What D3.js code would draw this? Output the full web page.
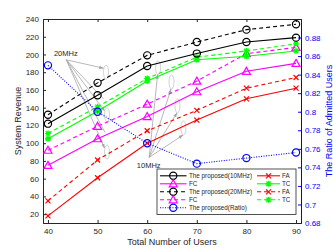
<!DOCTYPE html>
<html>
<head>
<meta charset="utf-8">
<script src="https://cdn.jsdelivr.net/npm/d3@7"></script>
<style>
  body { margin: 0; background: #fff; }
  text { font-family: "Liberation Sans", Arial, sans-serif; }
</style>
</head>
<body>
<div id="chart"></div>
<script>
const users = [40, 50, 60, 70, 80, 90];
const prop10 = [122, 154, 187, 201, 214, 219];
const prop20 = [132, 168, 199, 214, 228, 234];
const fc10 = [75, 105, 130, 158, 181, 190];
const fc20 = [92, 119, 144, 170, 201, 208];
const fa10 = [18, 61, 100, 126, 150, 162];
const fa20 = [35, 81, 114, 137, 162, 174];
const tc10 = [105, 136, 170, 194, 198, 204];
const tc20 = [111, 141, 173, 197, 204, 212];
const ratio = [0.85, 0.80, 0.766, 0.744, 0.750, 0.756];

const xTicks = [40, 50, 60, 70, 80, 90];
const yTicks = [20, 40, 60, 80, 100, 120, 140, 160, 180, 200, 220, 240];
const rTicks = [0.68, 0.7, 0.72, 0.74, 0.76, 0.78, 0.8, 0.82, 0.84, 0.86, 0.88];

// annotation ellipses (data coords: users, revenue)
const ell20 = [[51.7, 180], [51.9, 132], [51.9, 90]];
const ell10 = [[62.2, 185], [64.9, 169], [66.1, 142], [67.3, 117]];

const width = 333, height = 250;
const svg = d3.select('#chart').append('svg')
    .attr('width', width).attr('height', height);

const x = d3.scaleLinear().domain([39, 91]).range([43, 301]);
const y = d3.scaleLinear().domain([10, 240]).range([223, 19]);
const yr = d3.scaleLinear().domain([0.68, 0.9]).range([223, 19]);

const axisCol = '#262626';
const defs = svg.append('defs');
defs.append('marker').attr('id', 'arr')
    .attr('viewBox', '0 0 10 10').attr('refX', 9).attr('refY', 5)
    .attr('markerWidth', 6).attr('markerHeight', 6).attr('orient', 'auto')
    .append('path').attr('d', 'M0,1.5 L10,5 L0,8.5 Z').attr('fill', '#a6a6a6');

// axes
svg.append('g').attr('transform', 'translate(0,223)')
    .call(d3.axisBottom(x).tickValues(xTicks).tickSize(-3).tickPadding(5))
    .call(g => g.select('.domain').attr('stroke', axisCol))
    .call(g => g.selectAll('line').attr('stroke', axisCol))
    .call(g => g.selectAll('text').attr('fill', axisCol).attr('font-size', 8));
svg.append('g').attr('transform', 'translate(0,19)')
    .call(d3.axisTop(x).tickValues(xTicks).tickSize(-3).tickFormat(''))
    .call(g => g.select('.domain').attr('stroke', axisCol))
    .call(g => g.selectAll('line').attr('stroke', axisCol));
svg.append('g').attr('transform', 'translate(43,0)')
    .call(d3.axisLeft(y).tickValues(yTicks).tickSize(-3).tickPadding(4))
    .call(g => g.select('.domain').attr('stroke', axisCol))
    .call(g => g.selectAll('line').attr('stroke', axisCol))
    .call(g => g.selectAll('text').attr('fill', axisCol).attr('font-size', 8));
svg.append('g').attr('transform', 'translate(301,0)')
    .call(d3.axisRight(yr).tickValues(rTicks).tickSize(-3).tickPadding(4).tickFormat(d3.format('~g')))
    .call(g => g.select('.domain').attr('stroke', '#0000ff'))
    .call(g => g.selectAll('line').attr('stroke', '#0000ff'))
    .call(g => g.selectAll('text').attr('fill', '#0000ff').attr('font-size', 8));

svg.append('text').attr('x', 172).attr('y', 245).attr('text-anchor', 'middle')
    .attr('font-size', 9).attr('fill', axisCol).text('Total Number of Users');
svg.append('text').attr('transform', 'translate(21,121) rotate(-90)').attr('text-anchor', 'middle')
    .attr('font-size', 9).attr('fill', axisCol).text('System Revenue');
svg.append('text').attr('transform', 'translate(332,121) rotate(-90)').attr('text-anchor', 'middle')
    .attr('font-size', 9).attr('fill', '#0000ff').text('The Ratio of Admitted Users');

// annotations
const grey = '#a6a6a6';
const ann = svg.append('g');
ann.append('text').attr('x', x(43.6)).attr('y', y(198)).attr('text-anchor', 'middle')
    .attr('font-size', 7.5).attr('fill', axisCol).text('20MHz');
ann.append('text').attr('x', x(60.3)).attr('y', y(72)).attr('text-anchor', 'middle')
    .attr('font-size', 7.5).attr('fill', axisCol).text('10MHz');
ann.selectAll('ellipse.e20').data(ell20.concat(ell10)).enter().append('ellipse')
    .attr('cx', d => x(d[0])).attr('cy', d => y(d[1]))
    .attr('rx', 2.5).attr('ry', 7)
    .attr('fill', 'none').attr('stroke', '#c8c8c8').attr('stroke-width', 0.8);
ann.selectAll('line.a20').data(ell20).enter().append('line')
    .attr('x1', x(43.7)).attr('y1', y(194))
    .attr('x2', d => x(d[0]) - 2.5).attr('y2', d => y(d[1]) - 4)
    .attr('stroke', grey).attr('stroke-width', 0.8).attr('marker-end', 'url(#arr)');
ann.selectAll('line.a20b').data([[51.2, 150], [51.5, 112]]).enter().append('line')
    .attr('x1', x(43.7)).attr('y1', y(194))
    .attr('x2', d => x(d[0])).attr('y2', d => y(d[1]))
    .attr('stroke', grey).attr('stroke-width', 0.8);
ann.selectAll('line.a10').data(ell10).enter().append('line')
    .attr('x1', x(60.4)).attr('y1', y(84))
    .attr('x2', d => x(d[0]) - 0.5).attr('y2', d => y(d[1]) + 7)
    .attr('stroke', grey).attr('stroke-width', 0.8).attr('marker-end', 'url(#arr)');

// series
const series = [
    { v: fa10, col: '#ff0000', dash: null, mk: 'x' },
    { v: fa20, col: '#ff0000', dash: '4,3', mk: 'x' },
    { v: fc10, col: '#ff00ff', dash: null, mk: 'tri' },
    { v: fc20, col: '#ff00ff', dash: '4,3', mk: 'tri' },
    { v: tc10, col: '#00ff00', dash: null, mk: 'star' },
    { v: tc20, col: '#00ff00', dash: '4,3', mk: 'star' },
    { v: prop10, col: '#000000', dash: null, mk: 'circ' },
    { v: prop20, col: '#000000', dash: '4,3', mk: 'circ' }
];

function marker(g, type, col) {
    if (type === 'circ') {
        g.append('circle').attr('r', 3.6).attr('fill', 'none').attr('stroke', col).attr('stroke-width', 1.2);
    } else if (type === 'tri') {
        g.append('path').attr('d', 'M0,-4 L4,3 L-4,3 Z').attr('fill', 'none').attr('stroke', col).attr('stroke-width', 1.2);
    } else if (type === 'x') {
        g.append('path').attr('d', 'M-2.5,-2.5 L2.5,2.5 M-2.5,2.5 L2.5,-2.5').attr('stroke', col).attr('stroke-width', 1.2);
    } else if (type === 'star') {
        g.append('path').attr('d', 'M-3,0 L3,0 M0,-3 L0,3 M-2.2,-2.2 L2.2,2.2 M-2.2,2.2 L2.2,-2.2').attr('stroke', col).attr('stroke-width', 1.3);
    }
}

const line = d3.line().x((d, i) => x(users[i])).y(d => y(d));
series.forEach(s => {
    svg.append('path').datum(s.v).attr('d', line)
        .attr('fill', 'none').attr('stroke', s.col).attr('stroke-width', 1.1)
        .attr('stroke-dasharray', s.dash);
    s.v.forEach((v, i) => {
        const g = svg.append('g').attr('transform', `translate(${x(users[i])},${y(v)})`);
        marker(g, s.mk, s.col);
    });
});

const rline = d3.line().x((d, i) => x(users[i])).y(d => yr(d));
svg.append('path').datum(ratio).attr('d', rline)
    .attr('fill', 'none').attr('stroke', '#0000ff').attr('stroke-width', 1.1)
    .attr('stroke-dasharray', '1,1.5');
ratio.forEach((v, i) => {
    const g = svg.append('g').attr('transform', `translate(${x(users[i])},${yr(v)})`);
    marker(g, 'circ', '#0000ff');
});

// legend
const legend1 = [
    { label: 'The proposed(10MHz)', col: '#000000', dash: null, mk: 'circ' },
    { label: 'FC', col: '#ff00ff', dash: null, mk: 'tri' },
    { label: 'The proposed(20MHz)', col: '#000000', dash: '4,3', mk: 'circ' },
    { label: 'FC', col: '#ff00ff', dash: '4,3', mk: 'tri' },
    { label: 'The proposed(Ratio)', col: '#0000ff', dash: '1,1.5', mk: 'circ' }
];
const legend2 = [
    { label: 'FA', col: '#ff0000', dash: null, mk: 'x' },
    { label: 'TC', col: '#00ff00', dash: null, mk: 'star' },
    { label: 'FA', col: '#ff0000', dash: '4,3', mk: 'x' },
    { label: 'TC', col: '#00ff00', dash: '4,3', mk: 'star' }
];
const lg = svg.append('g');
lg.append('rect').attr('x', 157).attr('y', 169).attr('width', 139).attr('height', 45.5)
    .attr('fill', '#fff').attr('stroke', axisCol).attr('stroke-width', 0.8);
function legendCol(items, x0, x1, tx) {
    items.forEach((d, i) => {
        const yy = 175.8 + i * 8;
        lg.append('line').attr('x1', x0).attr('x2', x1).attr('y1', yy).attr('y2', yy)
            .attr('stroke', d.col).attr('stroke-width', 1.1).attr('stroke-dasharray', d.dash);
        const g = lg.append('g').attr('transform', `translate(${(x0 + x1) / 2},${yy})`);
        marker(g, d.mk, d.col);
        lg.append('text').attr('x', tx).attr('y', yy + 2.2).attr('font-size', 6.3)
            .attr('fill', axisCol).text(d.label);
    });
}
legendCol(legend1, 160, 186.5, 189);
legendCol(legend2, 257, 280, 282);
</script>
</body>
</html>
